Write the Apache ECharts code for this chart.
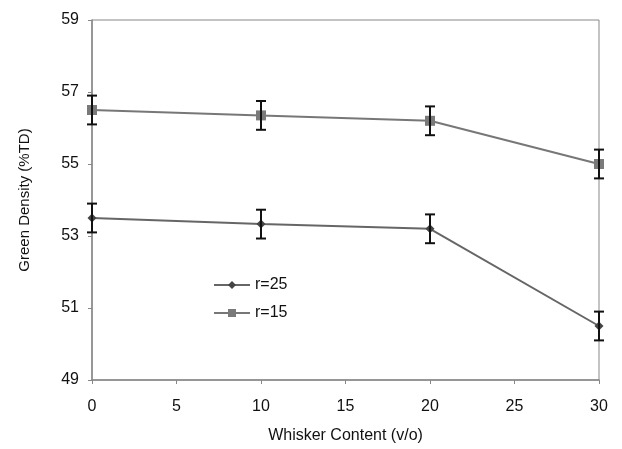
<!DOCTYPE html>
<html><head><meta charset="utf-8">
<script src="https://cdn.jsdelivr.net/npm/echarts@6/dist/echarts.min.js"></script>
<style>html,body{margin:0;padding:0;background:#fff}#c{width:622px;height:449px}</style>
</head><body><div id="c"></div>
<script>
var whisker = [0, 10, 20, 30];
var r25 = [53.5, 53.33, 53.2, 50.5];
var r15 = [56.5, 56.35, 56.2, 55.0];
var r25Err = [0.4, 0.4, 0.4, 0.4];
var r15Err = [0.4, 0.4, 0.4, 0.4];
var yTicks = [49, 51, 53, 55, 57, 59];
var xTicks = [0, 5, 10, 15, 20, 25, 30];

var font = 'Liberation Sans, Arial, sans-serif';
function errData(x, y, e) { return x.map(function (v, i) { return [v, y[i] - e[i], y[i] + e[i]]; }); }
function errRender(params, api) {
  var lo = api.coord([api.value(0), api.value(1)]);
  var hi = api.coord([api.value(0), api.value(2)]);
  var w = 5;
  var st = { stroke: '#111', lineWidth: 2 };
  return { type: 'group', children: [
    { type: 'line', shape: { x1: lo[0], y1: lo[1], x2: hi[0], y2: hi[1] }, style: st },
    { type: 'line', shape: { x1: lo[0] - w, y1: lo[1], x2: lo[0] + w, y2: lo[1] }, style: st },
    { type: 'line', shape: { x1: hi[0] - w, y1: hi[1], x2: hi[0] + w, y2: hi[1] }, style: st }
  ]};
}
var chart = echarts.init(document.getElementById('c'));
chart.setOption({
  animation: false,
  backgroundColor: '#fff',
  grid: { left: 92, right: 23, top: 20, bottom: 66, show: true, borderColor: '#888', borderWidth: 1 },
  xAxis: {
    type: 'value', min: 0, max: 30, interval: 5,
    name: 'Whisker Content (v/o)', nameLocation: 'middle', nameGap: 48,
    nameTextStyle: { fontFamily: font, fontSize: 16, color: '#111' },
    axisLine: { lineStyle: { color: '#888', width: 1.5 } },
    axisTick: { show: true, length: 4, lineStyle: { color: '#888' } },
    axisLabel: { fontFamily: font, fontSize: 16, color: '#111', margin: 19 },
    splitLine: { show: false }
  },
  yAxis: {
    type: 'value', min: 49, max: 59, interval: 2,
    name: 'Green Density (%TD)', nameLocation: 'middle', nameGap: 60,
    nameTextStyle: { fontFamily: font, fontSize: 15, color: '#111' },
    axisLine: { show: true, lineStyle: { color: '#888', width: 1.5 } },
    axisTick: { show: true, length: 4, lineStyle: { color: '#888' } },
    axisLabel: { fontFamily: font, fontSize: 16, color: '#111', margin: 13 },
    splitLine: { show: false }
  },
  legend: {
    data: ['r=25', 'r=15'], orient: 'vertical', left: 208, top: 272,
    itemWidth: 36, itemHeight: 10, itemGap: 12,
    textStyle: { fontFamily: font, fontSize: 16, color: '#111' }
  },
  series: [
    { name: 'r=25', type: 'line', data: whisker.map(function (x, i) { return [x, r25[i]]; }),
      symbol: 'diamond', symbolSize: 9, lineStyle: { color: '#666', width: 2 },
      itemStyle: { color: '#444' }, z: 3 },
    { name: 'r=15', type: 'line', data: whisker.map(function (x, i) { return [x, r15[i]]; }),
      symbol: 'rect', symbolSize: 10, lineStyle: { color: '#777', width: 2 },
      itemStyle: { color: '#7a7a7a' }, z: 3 },
    { type: 'custom', renderItem: errRender, data: errData(whisker, r25, r25Err), z: 4 },
    { type: 'custom', renderItem: errRender, data: errData(whisker, r15, r15Err), z: 4 }
  ]
});
</script></body></html>
